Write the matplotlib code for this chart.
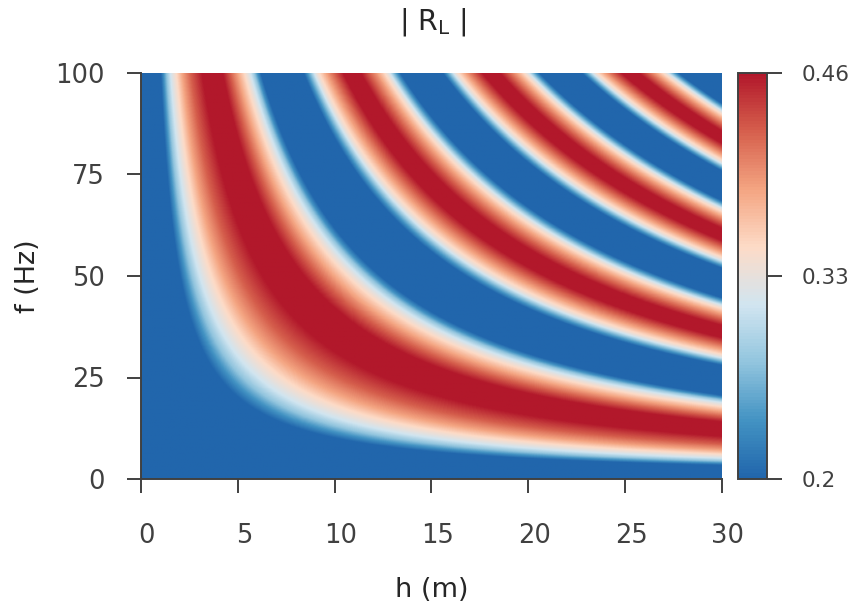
import numpy as np
import matplotlib
matplotlib.use("Agg")
import matplotlib.pyplot as plt
from matplotlib.colors import LinearSegmentedColormap
from matplotlib.transforms import ScaledTranslation

hf_values = [0, 100, 115, 130, 150, 165, 182, 212, 255, 315, 420, 460, 497, 532, 550, 565, 585, 600, 618,
             840, 858, 877, 893, 905, 922, 957, 1000, 1045, 1135, 1180, 1223, 1258, 1275, 1287, 1303, 1322, 1340,
             1560, 1578, 1597, 1613, 1625, 1642, 1677, 1720, 1765, 1855, 1900, 1943, 1978, 1995, 2007, 2023, 2042, 2060,
             2280, 2298, 2317, 2333, 2345, 2362, 2397, 2440, 2485, 2575, 2620, 2663, 2698, 2715, 2727, 2743, 2762, 2780,
             3000]
rl_values = [0.20, 0.20, 0.237, 0.274, 0.311, 0.33, 0.349, 0.386, 0.423, 0.46, 0.46, 0.423, 0.386, 0.349, 0.33, 0.311, 0.274, 0.237, 0.20,
             0.20, 0.237, 0.274, 0.311, 0.33, 0.349, 0.386, 0.423, 0.46, 0.46, 0.423, 0.386, 0.349, 0.33, 0.311, 0.274, 0.237, 0.20,
             0.20, 0.237, 0.274, 0.311, 0.33, 0.349, 0.386, 0.423, 0.46, 0.46, 0.423, 0.386, 0.349, 0.33, 0.311, 0.274, 0.237, 0.20,
             0.20, 0.237, 0.274, 0.311, 0.33, 0.349, 0.386, 0.423, 0.46, 0.46, 0.423, 0.386, 0.349, 0.33, 0.311, 0.274, 0.237, 0.20,
             0.20]

x_ticks = [0, 5, 10, 15, 20, 25, 30]
y_ticks = [0, 25, 50, 75, 100]
cbar_ticks = [0.2, 0.33, 0.46]
cbar_labels = ["0.2", "0.33", "0.46"]

palette = ["#2166ac", "#4393c3", "#92c5de", "#d1e5f0",
           "#fddbc7", "#f4a582", "#d6604d", "#b2182b"]
cmap = LinearSegmentedColormap.from_list("rdbu8", palette, N=128)

W, H = 854, 606
grey = "#404040"

h = np.linspace(0, 30, 600)
f = np.linspace(0, 100, 500)
rl = np.interp(np.outer(f, h), hf_values, rl_values)

fig = plt.figure(figsize=(W / 100, H / 100), dpi=100)
ax = fig.add_axes([141 / W, 1 - 479 / H, 581 / W, 406 / H])
cax = fig.add_axes([738 / W, 1 - 479 / H, 29 / W, 406 / H])

im = ax.imshow(rl, origin="lower", extent=[0, 30, 0, 100], aspect="auto",
               cmap=cmap, vmin=0.2, vmax=0.46, interpolation="bilinear")

ax.set_xticks(x_ticks)
ax.set_yticks(y_ticks)
ax.tick_params(length=10, width=1.4, color=grey, labelcolor=grey, labelsize=18.5)
ax.tick_params(axis="x", pad=22)
ax.tick_params(axis="y", pad=16)
for side in ["top", "right"]:
    ax.spines[side].set_visible(False)
for side in ["left", "bottom"]:
    ax.spines[side].set_color(grey)
    ax.spines[side].set_linewidth(1.4)

# tick labels sit a little right of their ticks in the original
shift = ScaledTranslation(6 / 100, 0, fig.dpi_scale_trans)
for lab in ax.get_xticklabels():
    lab.set_transform(lab.get_transform() + shift)

fig.text(432 / W, 1 - 590 / H, "h (m)", fontsize=19.5, color="#262626", ha="center", va="center")
fig.text(28 / W, 1 - 276 / H, "f (Hz)", fontsize=19.5, color="#262626", ha="center", va="center", rotation=90)
fig.text(433 / W, 1 - 22 / H, r"| $\mathrm{R_L}$ |", fontsize=20.5, color="#262626", ha="center", va="center",
         math_fontfamily="dejavusans")

cbar = fig.colorbar(im, cax=cax, ticks=cbar_ticks)
cbar.ax.set_yticklabels(cbar_labels)
cbar.ax.tick_params(length=11, width=1.4, color=grey, labelcolor=grey, labelsize=15.5, pad=14)
cbar.outline.set_edgecolor(grey)
cbar.outline.set_linewidth(1.4)

fig.savefig("out.png", dpi=100)
